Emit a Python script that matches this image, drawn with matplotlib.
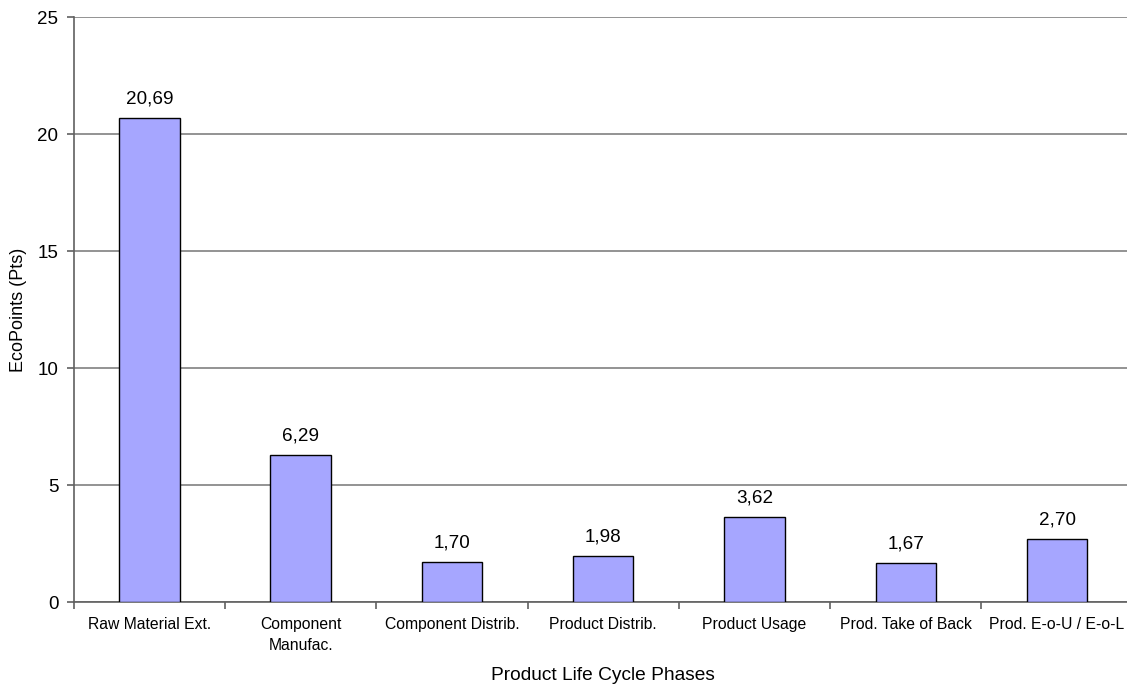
import matplotlib
matplotlib.use("Agg")
import matplotlib.pyplot as plt
import numpy as np

plt.rcParams["font.family"] = ["Liberation Sans", "DejaVu Sans"]

phases = ["Raw Material Ext.", "Component\nManufac.", "Component Distrib.", "Product Distrib.",
          "Product Usage", "Prod. Take of Back", "Prod. E-o-U / E-o-L"]
ecopoints = [20.69, 6.29, 1.70, 1.98, 3.62, 1.67, 2.70]
y_ticks = [0, 5, 10, 15, 20, 25]

fig = plt.figure(figsize=(11.27, 6.86), dpi=100)
ax = fig.add_axes([0.0654, 0.1224, 0.9397, 0.8528])

x = np.arange(len(phases))
ax.bar(x, ecopoints, width=0.4, color="#a6a6ff", edgecolor="black", linewidth=1.0, zorder=3)

for xi, v in zip(x, ecopoints):
    ax.annotate(f"{v:.2f}".replace(".", ","), (xi, v), xytext=(0, 7.5), textcoords="offset points",
                ha="center", va="bottom", fontsize=13.6)

ax.set_xlim(-0.5, len(phases) - 0.5)
ax.set_ylim(0, 25)
ax.set_yticks(y_ticks)
ax.set_yticklabels([str(t) for t in y_ticks], fontsize=13.5)
ax.yaxis.grid(True, color="#808080", linewidth=1.2, zorder=0)

# category ticks between bars, labels at bar centres
ax.set_xticks(np.arange(len(phases) + 1) - 0.5)
ax.set_xticklabels([])
ax.set_xticks(x, minor=True)
ax.set_xticklabels(phases, minor=True, fontsize=11.3, linespacing=1.45)
ax.tick_params(axis="x", which="minor", length=0, pad=11)
ax.tick_params(axis="x", which="major", length=5, color="#606060", width=1.2)
ax.tick_params(axis="y", length=5, color="#606060", width=1.2, pad=6)

for side in ["top", "right"]:
    ax.spines[side].set_visible(False)
for side in ["left", "bottom"]:
    ax.spines[side].set_color("#606060")
    ax.spines[side].set_linewidth(1.2)

ax.set_ylabel("EcoPoints (Pts)", fontsize=13)
ax.set_xlabel("Product Life Cycle Phases", fontsize=13.8, labelpad=10)
ax.yaxis.set_label_coords(-0.044, 0.5)

fig.savefig("out.png", dpi=100)
